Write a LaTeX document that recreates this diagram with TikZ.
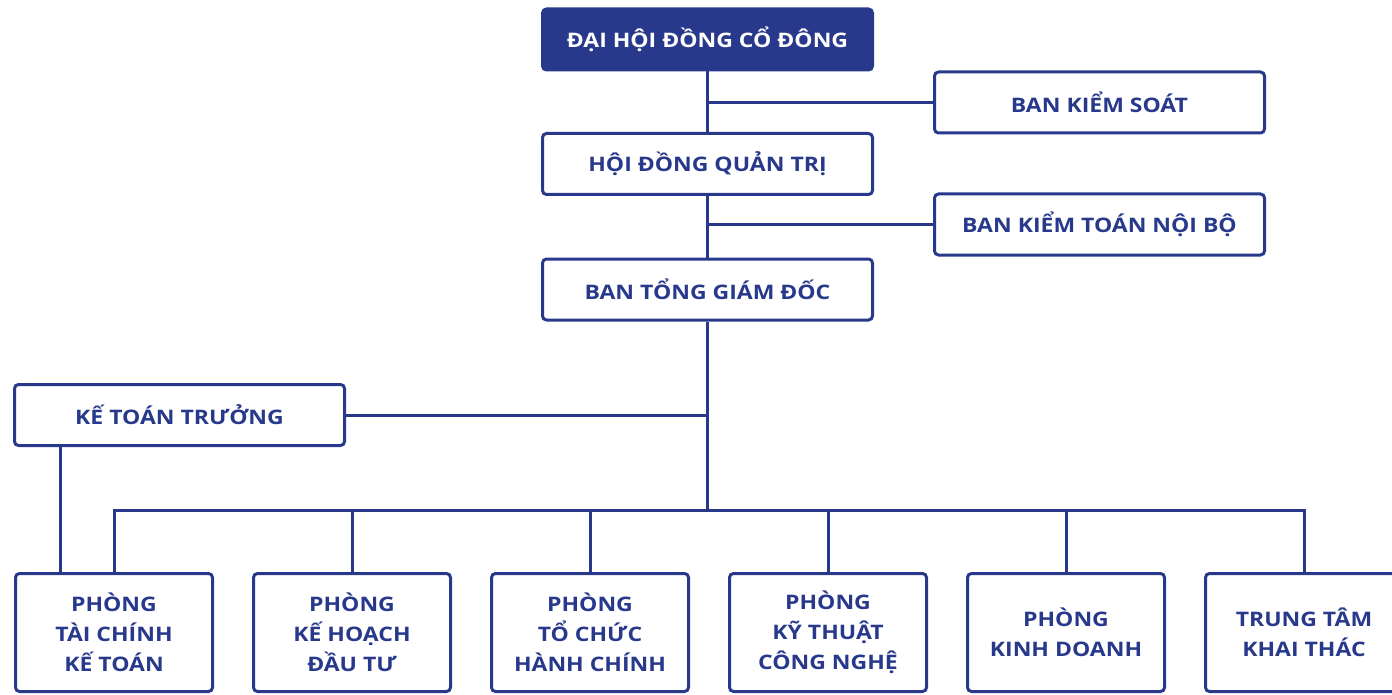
\documentclass[tikz,border=0pt]{standalone}
\usepackage{fontspec}
\setmainfont[FakeStretch=1.15]{Open Sans}
\usepackage{tikz}
\usetikzlibrary{positioning}
\definecolor{navy}{RGB}{40,57,140}

\tikzset{
    box/.style={draw=navy, line width=3pt, rounded corners=4pt, fill=white, text=navy,
        font=\bfseries\fontsize{20}{30}\selectfont, align=center,
        minimum width=330pt, minimum height=61pt, inner sep=0pt},
    topbox/.style={box, fill=navy, text=white},
    dept/.style={box, minimum width=197pt, minimum height=118pt},
    link/.style={draw=navy, line width=3pt}
}

\begin{document}
\begin{tikzpicture}[x=1pt,y=-1pt]
        \useasboundingbox (0,0) rectangle (1392,695);

        \node [topbox] (dhdcd) at (707.5,39.5) {ĐẠI HỘI ĐỒNG CỔ ĐÔNG};
        \node [box] (bks) at (1099.5,102.5) {BAN KIỂM SOÁT};
        \node [box] (hdqt) at (707.5,164) {HỘI ĐỒNG QUẢN TRỊ};
        \node [box] (bktnb) at (1099.5,224.5) {BAN KIỂM TOÁN NỘI BỘ};
        \node [box] (btgd) at (707.5,289.5) {BAN TỔNG GIÁM ĐỐC};
        \node [box] (ktt) at (179.5,415) {KẾ TOÁN TRƯỞNG};

        \node [dept] (p1) at (114,632.5) {PHÒNG\\TÀI CHÍNH\\KẾ TOÁN};
        \node [dept] (p2) at (352,632.5) {PHÒNG\\KẾ HOẠCH\\ĐẦU TƯ};
        \node [dept] (p3) at (590,632.5) {PHÒNG\\TỔ CHỨC\\HÀNH CHÍNH};
        \node [dept] (p4) at (828,632.5) {PHÒNG\\KỸ THUẬT\\CÔNG NGHỆ};
        \node [dept] (p5) at (1066,632.5) {PHÒNG\\KINH DOANH};
        \node [dept] (p6) at (1304,632.5) {TRUNG TÂM\\KHAI THÁC};

        \coordinate (bus) at (btgd.south |- 0,510);
        \coordinate (kttdrop) at ([xshift=46pt]p1.north west);

        % trunk and side branches
        \begin{scope}[on background layer/.try]
        \draw [link] (dhdcd.south) -- (hdqt.north);
        \draw [link] (hdqt.south) -- (btgd.north);
        \draw [link] (btgd.south) -- (bus);
        \draw [link] (bks.west) -- (bks.west -| dhdcd.south);
        \draw [link] (bktnb.west) -- (bktnb.west -| hdqt.south);
        \draw [link] (ktt.east) -- (ktt.east -| bus);
        \draw [link] (kttdrop) -- (kttdrop |- ktt.south);

        % departments
        \draw [link] (p1.north) |- (bus) -| (p6.north);
        \foreach \i in {2,...,5}
            \draw [link] (p\i.north) -- (p\i.north |- bus);
        \end{scope}
\end{tikzpicture}
\end{document}
